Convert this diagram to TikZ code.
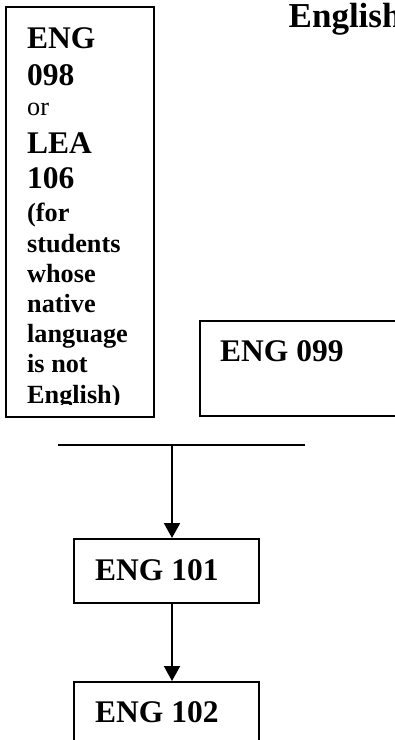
\documentclass[tikz,border=0pt]{standalone}
\usepackage{fontspec}
\setmainfont{Liberation Serif}
\usetikzlibrary{arrows.meta}
\tikzset{
  box/.style={draw, line width=2pt, inner sep=0pt, minimum width=#1},
  big/.style={anchor=base west, inner sep=0pt, font=\fontsize{31.5}{36}\selectfont\bfseries},
  small/.style={anchor=base west, inner sep=0pt, font=\fontsize{26.25}{30}\selectfont\bfseries},
  plain/.style={anchor=base west, inner sep=0pt, font=\fontsize{26.25}{30}\selectfont},
  titlefont/.style={anchor=base west, inner sep=0pt, font=\fontsize{35}{40}\selectfont\bfseries},
  conn/.style={line width=2pt},
  arr/.style={line width=2pt, -{Triangle[length=15pt,width=16pt]}}
}
\begin{document}
\begin{tikzpicture}[x=1pt,y=-1pt]
\useasboundingbox (0,0) rectangle (395,740);
\clip (0,0) rectangle (395,740);
% title
\node[titlefont] (title) at (288.5,27.5) {English};
% left box
\node[box=148pt, minimum height=409.4pt] (lbox) at (80,212) {};
\begin{scope}
\clip (7,8) rectangle (153,404);
\node[big] (t1) at (27,48.3) {ENG};
\node[big] (t2) at (27,85) {098};
\node[plain] (t3) at (27,115) {or};
\node[big] (t4) at (27,153.3) {LEA};
\node[big] (t5) at (27,188.3) {106};
\node[small] (t6) at (27,221.7) {(for};
\node[small] (t7) at (27,252.7) {students};
\node[small] (t8) at (27,282.7) {whose};
\node[small] (t9) at (27,312.7) {native};
\node[small] (t10) at (27,342.7) {language};
\node[small] (t11) at (27,372.7) {is not};
\node[small] (t12) at (27,403) {English)};
\end{scope}
% ENG 099 box
\node[box=220pt, minimum height=95pt] (b099) at (310,368.2) {};
\node[big] (l099) at (220,361.7) {ENG 099};
% junction line
\coordinate (hl) at (58,445);
\coordinate (hr) at (305,445);
\coordinate (j) at (172,445);
\draw[conn] (hl) -- (hr);
% ENG 101
\node[box=185pt, minimum height=64pt] (b101) at (166.5,571) {};
\node[big] (l101) at (95,580) {ENG 101};
% ENG 102
\node[box=185pt, minimum height=64pt] (b102) at (166.5,714) {};
\node[big] (l102) at (95,722.7) {ENG 102};
% arrows
\draw[arr] (j) -- (j |- b101.north);
\draw[arr] (b101.south -| j) -- (b102.north -| j);
\end{tikzpicture}
\end{document}
